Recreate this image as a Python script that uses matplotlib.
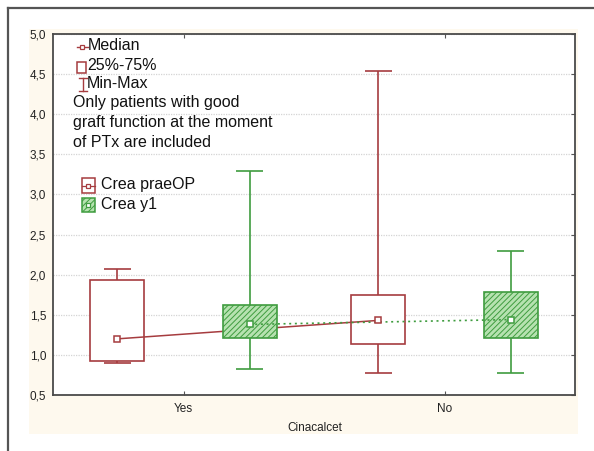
import matplotlib
matplotlib.use("Agg")
import matplotlib.pyplot as plt
from matplotlib.patches import Rectangle
from matplotlib.lines import Line2D
from matplotlib.ticker import FuncFormatter

plt.rcParams['font.family'] = ['Liberation Sans', 'DejaVu Sans']
plt.rcParams['hatch.linewidth'] = 0.7

# ---- data ----
categories = ["Yes", "No"]
series_names = ["Crea praeOP", "Crea y1"]
prae_min = [0.90, 0.77]
prae_q1 = [0.92, 1.13]
prae_med = [1.20, 1.43]
prae_q3 = [1.93, 1.75]
prae_max = [2.07, 4.54]
y1_min = [0.83, 0.78]
y1_q1 = [1.21, 1.205]
y1_med = [1.38, 1.44]
y1_q3 = [1.625, 1.78]
y1_max = [3.29, 2.29]
yticks = [0.5, 1.0, 1.5, 2.0, 2.5, 3.0, 3.5, 4.0, 4.5, 5.0]

RED = '#a63c3f'
GREEN = '#3f9c3f'
GREEN_FILL = '#b6e2b0'

W, H = 594, 451
fig = plt.figure(figsize=(W / 100, H / 100), dpi=100)
fig.patch.set_facecolor('white')


def fx(px):
    return px / W


def fy(py):
    return 1 - py / H


# outer frame lines and cream panel
fig.add_artist(Line2D([fx(8), fx(8)], [fy(8), fy(451)], color='#555555', lw=1.6))
fig.add_artist(Line2D([fx(8), fx(594)], [fy(8), fy(8)], color='#555555', lw=1.6))
fig.add_artist(Rectangle((fx(29), fy(434)), fx(578) - fx(29), fy(29) - fy(434),
                         facecolor='#fef9ee', edgecolor='none', zorder=0))

ax = fig.add_axes([fx(53), fy(395), fx(575) - fx(53), fy(34) - fy(395)])
ax.set_facecolor('white')
ax.set_xlim(-0.5, 1.5)
ax.set_ylim(0.5, 5.0)

off = 0.253
bw = 0.207
cap = 0.10
xs = list(range(len(categories)))
xp = [x - off for x in xs]
xg = [x + off for x in xs]

# prae boxes
ax.bar(xp, [b - a for a, b in zip(prae_q1, prae_q3)], bottom=prae_q1, width=bw,
       facecolor='white', edgecolor=RED, linewidth=1.2, zorder=2)
ax.vlines(xp, prae_q3, prae_max, color=RED, lw=1.2, zorder=2)
ax.vlines(xp, prae_min, prae_q1, color=RED, lw=1.2, zorder=2)
ax.hlines(prae_max, [x - cap / 2 for x in xp], [x + cap / 2 for x in xp], color=RED, lw=1.2, zorder=2)
ax.hlines(prae_min, [x - cap / 2 for x in xp], [x + cap / 2 for x in xp], color=RED, lw=1.2, zorder=2)
ax.plot(xp, prae_med, color=RED, lw=1.1, zorder=3)

# y1 boxes
ax.bar(xg, [b - a for a, b in zip(y1_q1, y1_q3)], bottom=y1_q1, width=bw,
       facecolor=GREEN_FILL, edgecolor=GREEN, hatch='//////', linewidth=1.2, zorder=4)
ax.vlines(xg, y1_q3, y1_max, color=GREEN, lw=1.2, zorder=4)
ax.vlines(xg, y1_min, y1_q1, color=GREEN, lw=1.2, zorder=4)
ax.hlines(y1_max, [x - cap / 2 for x in xg], [x + cap / 2 for x in xg], color=GREEN, lw=1.2, zorder=4)
ax.hlines(y1_min, [x - cap / 2 for x in xg], [x + cap / 2 for x in xg], color=GREEN, lw=1.2, zorder=4)
ax.plot(xg, y1_med, color=GREEN, lw=1.2, ls=(0, (1.2, 2.2)), zorder=5)

# median markers
ax.plot(xp, prae_med, ls='none', marker='s', ms=5, mfc='white', mec=RED, mew=1.1, zorder=6)
ax.plot(xg, y1_med, ls='none', marker='s', ms=5, mfc='white', mec=GREEN, mew=1.1, zorder=6)

# axes styling
ax.set_xticks(xs)
ax.set_xticklabels(categories, fontsize=8.5, color='#222222')
ax.set_yticks(yticks)
ax.yaxis.set_major_formatter(FuncFormatter(lambda v, p: f"{v:.1f}".replace('.', ',')))
ax.tick_params(axis='y', labelsize=8.5, labelcolor='#222222', direction='in', length=0,
               pad=5, right=True)
ax.tick_params(axis='y', which='major', right=True, length=3, color='#555555')
ax.tick_params(axis='y', left=False)
ax.tick_params(axis='x', direction='in', length=3, top=True, color='#555555', pad=6)
ax.grid(axis='y', color='#d4d4d4', lw=0.9, ls=(0, (1, 1)), zorder=0)
ax.set_axisbelow(True)
for s in ax.spines.values():
    s.set_color('#4a4a4a')
    s.set_linewidth(1.3)

fig.text(fx(315), fy(428), "Cinacalcet", fontsize=8.5, color='#222222', ha='center', va='center')

# ---- legend-like annotations ----
TXT = dict(fontsize=11.5, color='#111111', va='center', ha='left')
# Median icon
fig.add_artist(Line2D([fx(77), fx(88)], [fy(47), fy(47)], color=RED, lw=1.0))
fig.add_artist(Line2D([fx(82)], [fy(47)], marker='s', ms=3.2, mfc='white', mec=RED, mew=0.9))
fig.text(fx(88), fy(46), "Median", **TXT)
# 25-75 icon
fig.add_artist(Rectangle((fx(77), fy(73)), fx(86) - fx(77), fy(62) - fy(73),
                         facecolor='white', edgecolor=RED, lw=1.1))
fig.text(fx(87), fy(65), "25%-75%", **TXT)
# min-max icon
fig.add_artist(Line2D([fx(83), fx(83)], [fy(78), fy(91)], color=RED, lw=1.0))
fig.add_artist(Line2D([fx(79), fx(87)], [fy(78), fy(78)], color=RED, lw=1.0))
fig.add_artist(Line2D([fx(79), fx(87)], [fy(91), fy(91)], color=RED, lw=1.0))
fig.text(fx(87), fy(84), "Min-Max", **TXT)
fig.text(fx(73), fy(103), "Only patients with good", **TXT)
fig.text(fx(73), fy(122.5), "graft function at the moment", **TXT)
fig.text(fx(73), fy(142), "of PTx are included", **TXT)

# series legend
fig.add_artist(Rectangle((fx(82), fy(193)), fx(95) - fx(82), fy(178) - fy(193),
                         facecolor='white', edgecolor=RED, lw=1.1))
fig.add_artist(Line2D([fx(82), fx(95)], [fy(185.5), fy(185.5)], color=RED, lw=0.9))
fig.add_artist(Line2D([fx(88.5)], [fy(185.5)], marker='s', ms=3.5, mfc='white', mec=RED, mew=0.9))
fig.text(fx(101), fy(185), series_names[0], **TXT)
fig.add_artist(Rectangle((fx(82), fy(212)), fx(95) - fx(82), fy(198) - fy(212),
                         facecolor=GREEN_FILL, edgecolor=GREEN, hatch='//////', lw=1.1))
fig.add_artist(Line2D([fx(88.5)], [fy(205)], marker='s', ms=3.5, mfc='white', mec=GREEN, mew=0.9))
fig.text(fx(101), fy(204), series_names[1], **TXT)

fig.savefig("out.png", dpi=100)
